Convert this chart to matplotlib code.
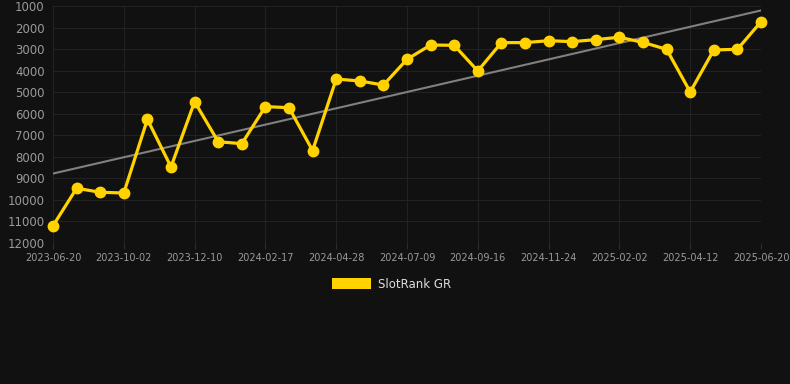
import numpy as np
import matplotlib
matplotlib.use("Agg")
import matplotlib.pyplot as plt
from matplotlib.patches import Patch

tick_labels = ["2023-06-20", "2023-10-02", "2023-12-10", "2024-02-17", "2024-04-28",
               "2024-07-09", "2024-09-16", "2024-11-24", "2025-02-02", "2025-04-12",
               "2025-06-20"]
ranks = [11200, 9460, 9645, 9680, 6260, 8470, 5440, 7300, 7390, 5670, 5720, 7710,
         4390, 4480, 4670, 3475, 2810, 2825, 4015, 2700, 2700, 2610, 2655, 2560,
         2450, 2690, 3010, 4990, 3040, 3010, 1730]
series_name = "SlotRank GR"

bg = "#111111"
fig = plt.figure(figsize=(7.9, 3.84), dpi=100, facecolor=bg)
ax = fig.add_axes([53/790, 1 - 243/384, (761-53)/790, (243-6)/384], facecolor=bg)

x = np.arange(len(ranks))
coef = np.polyfit(x, ranks, 1)
trend = np.polyval(coef, x)
ax.plot(x, trend, color="#808080", lw=1.5, zorder=2)
ax.plot(x, ranks, color="#FFD200", lw=2.3, marker="o", markersize=7.5, zorder=3,
        clip_on=False)

ax.set_ylim(12000, 1000)
ax.set_yticks(np.arange(1000, 12001, 1000))
ax.set_xlim(0, len(ranks) - 1)
ax.set_xticks(np.arange(0, len(ranks), 3))
ax.set_xticklabels(tick_labels)

ax.grid(True, color="#222222", lw=0.8)
ax.set_axisbelow(True)
for s in ax.spines.values():
    s.set_visible(False)
ax.tick_params(axis="y", length=0, labelsize=8.5, colors="#9a9a9a", pad=6)
ax.tick_params(axis="x", length=4, color="#2e2e2e", labelsize=7, colors="#9a9a9a", pad=3)
ax.axhline(12000, color="#2e2e2e", lw=0.8)

fig.legend(handles=[Patch(facecolor="#FFD200", edgecolor="none", label=series_name)],
           loc="center", bbox_to_anchor=(392/790, 1 - 284/384), frameon=False,
           labelcolor="#dddddd", fontsize=8.5, handlelength=3.3, handleheight=1.0,
           handletextpad=0.6)

fig.savefig("out.png", dpi=100, facecolor=bg)
